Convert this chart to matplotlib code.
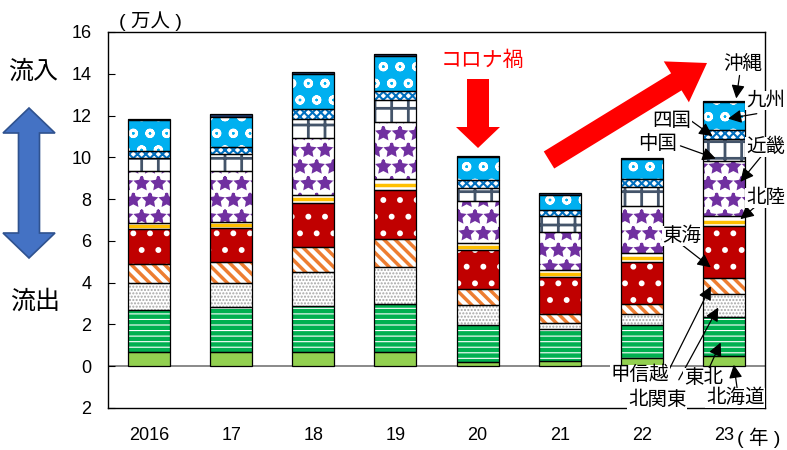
import numpy as np
import matplotlib
matplotlib.use('Agg')
import matplotlib.pyplot as plt
from matplotlib.patches import Polygon

plt.rcParams['font.family'] = ['Liberation Sans', 'Noto Sans CJK JP']

years = ['2016', '17', '18', '19', '20', '21', '22', '23']
regions = ['北海道', '東北', '北関東', '甲信越', '東海', '北陸',
           '近畿', '中国', '四国', '九州', '沖縄']

# 地域別の値（万人）
hokkaido   = [0.68, 0.68, 0.68, 0.68, 0.22, 0.26, 0.39, 0.47]
tohoku     = [1.99, 2.17, 2.20, 2.31, 1.74, 1.54, 1.57, 1.90]
kitakanto  = [1.30, 1.15, 1.65, 1.78, 0.98, 0.28, 0.55, 1.07]
koshinetsu = [0.94, 1.01, 1.20, 1.30, 0.77, 0.44, 0.46, 0.77]
tokai      = [1.65, 1.62, 2.08, 2.37, 1.84, 1.75, 2.04, 2.48]
hokuriku   = [0.29, 0.29, 0.39, 0.53, 0.34, 0.32, 0.40, 0.48]
kinki      = [2.49, 2.42, 2.72, 2.72, 2.00, 1.84, 2.27, 2.67]
chugoku    = [0.62, 0.80, 0.93, 1.07, 0.66, 0.74, 0.89, 1.05]
shikoku    = [0.34, 0.35, 0.45, 0.40, 0.35, 0.32, 0.40, 0.42]
kyushu     = [1.47, 1.44, 1.67, 1.67, 1.10, 0.72, 0.96, 1.36]
okinawa    = [0.05, 0.13, 0.13, 0.10, 0.05, 0.07, 0.06, 0.05]

series = [hokkaido, tohoku, kitakanto, koshinetsu, tokai, hokuriku,
          kinki, chugoku, shikoku, kyushu, okinawa]

# (塗り, ハッチ, ハッチ色, ハッチ線幅)
styles = [
    ('#92D050', None, None, 0),
    ('#00B050', '---', 'white', 0.8),
    ('white', '.....', '#A6A6A6', 1.0),
    ('white', '\\\\\\', '#ED7D31', 2.5),
    ('#C00000', '.', 'white', 1.8),
    ('white', None, None, 0),
    ('white', '*', '#7030A0', 2.0),
    ('white', '+', '#44546A', 2.0),
    ('white', 'xxxx', '#0070C0', 1.5),
    ('#00B0F0', 'o', 'white', 2.0),
    ('#1F3864', None, None, 0),
]

fig = plt.figure(figsize=(7.87, 4.5), dpi=100)
ax = fig.add_axes([108/787, 1-408/450, (765-108)/787, (408-32)/450])

x = np.arange(len(years))
w = 0.51
bottom = np.zeros(len(years))
tops = []
for vals, (fc, hatch, hc, hlw) in zip(series, styles):
    vals = np.array(vals)
    ax.bar(x, vals, bottom=bottom, width=w, color=fc, linewidth=0, zorder=2)
    if hatch:
        with plt.rc_context({'hatch.linewidth': hlw}):
            bars = ax.bar(x, vals, bottom=bottom, width=w, color='none',
                          edgecolor=hc, hatch=hatch, linewidth=0, zorder=3)
        for p in bars:
            if hasattr(p, 'set_hatch_linewidth'):
                p.set_hatch_linewidth(hlw)
    ax.bar(x, vals, bottom=bottom, width=w, color='none',
           edgecolor='black', linewidth=0.9, zorder=4)
    tops.append((bottom.copy(), vals))
    bottom = bottom + vals

# 北陸の黄色い線
hb, hv = tops[5]
ax.hlines(hb + hv * 0.45, x - w/2, x + w/2, color='#FFC000', lw=2.5, zorder=3)

ax.axhline(0, color='#808080', lw=1.3, zorder=1)

ax.set_xlim(-0.5, 7.5)
ax.set_ylim(-2, 16)
yt = np.arange(-2, 17, 2)
ax.set_yticks(yt)
ax.set_yticklabels([str(abs(v)) for v in yt])
ax.set_xticks(x)
ax.set_xticklabels(years)
ax.tick_params(axis='y', direction='in', length=5, pad=12, labelsize=13)
ax.tick_params(axis='x', length=0, pad=14, labelsize=13)
for s in ax.spines.values():
    s.set_linewidth(1.0)
    s.set_color('black')

# ラベルと矢印（2023年の棒）
# (地域番号, 文字x, 文字y, 矢印始点x, 矢印始点y, 矢印先x, 段内位置)
labels = [
    (10, 7.225, 14.49, 7.19, 13.92, 7.15, 1.0),
    (9, 7.506, 12.72, 7.40, 12.09, 7.05, 0.4),
    (8, 6.37, 11.71, 6.60, 11.75, 6.86, 0.3),
    (7, 6.19, 10.65, 6.47, 10.55, 6.90, 0.1),
    (6, 7.506, 10.50, 7.48, 10.17, 7.20, 0.62),
    (5, 7.506, 8.05, 7.42, 7.76, 7.20, 0.73),
    (4, 6.49, 6.23, 6.43, 5.99, 6.84, 0.21),
    (3, 5.98, -0.41, 6.32, -0.26, 6.84, 0.5),
    (2, 6.19, -1.61, 6.45, -0.65, 6.93, 0.41),
    (1, 6.75, -0.55, 6.80, -0.26, 6.96, 0.35),
    (0, 7.14, -1.51, 7.16, -1.03, 7.12, 0.15),
]
for ri, tx, ty, sx, sy, ex, frac in labels:
    b, v = tops[ri]
    ey = b[7] + v[7] * frac
    if ri == 10:
        ey = b[7] + v[7] + 0.1
    ax.annotate('', xy=(ex, ey), xytext=(sx, sy),
                arrowprops=dict(arrowstyle='-|>', color='black', lw=0.9,
                                mutation_scale=20, shrinkA=0, shrinkB=0),
                zorder=6, annotation_clip=False)
    ax.text(tx, ty, regions[ri], fontsize=14, ha='center', va='center',
            zorder=7, clip_on=False,
            bbox=dict(facecolor='white', edgecolor='none', pad=0.5))


def px(pts):
    return [(a / 787, 1 - b / 450) for a, b in pts]


# 左の青い両矢印
cx, t, bt, hl, hw, sw = 29, 108, 258, 25, 26, 10.5
blue = [(cx, t), (cx + hw, t + hl), (cx + sw, t + hl), (cx + sw, bt - hl),
        (cx + hw, bt - hl), (cx, bt), (cx - hw, bt - hl), (cx - sw, bt - hl),
        (cx - sw, t + hl), (cx - hw, t + hl)]
fig.patches.append(Polygon(px(blue), closed=True, facecolor='#4472C4',
                           edgecolor='#2F528F', lw=1.2, transform=fig.transFigure))
fig.text(33/787, 1 - 72/450, '流入', fontsize=18, ha='center', va='center')
fig.text(35/787, 1 - 302/450, '流出', fontsize=18, ha='center', va='center')

# コロナ禍の赤い矢印
cx, t, hb_, tip, sw, hw = 478, 79, 127, 148, 11, 22
down = [(cx - sw, t), (cx + sw, t), (cx + sw, hb_), (cx + hw, hb_), (cx, tip),
        (cx - hw, hb_), (cx - sw, hb_)]
fig.patches.append(Polygon(px(down), closed=True, facecolor='red',
                           edgecolor='none', transform=fig.transFigure))
fig.text(482/787, 1 - 60/450, 'コロナ禍', fontsize=15, color='red',
         ha='center', va='center')

# 回復の斜め矢印
tail = np.array([549.0, 160.0])
tipp = np.array([707.0, 63.0])
d = tipp - tail
L = np.hypot(*d)
u = d / L
n = np.array([u[1], -u[0]])
sw, hw, hl = 10, 24, 36
base = tipp - u * hl
diag = [tail + n * sw, base + n * sw, base + n * hw, tipp,
        base - n * hw, base - n * sw, tail - n * sw]
fig.patches.append(Polygon(px([tuple(p) for p in diag]), closed=True,
                           facecolor='red', edgecolor='none',
                           transform=fig.transFigure))

fig.text(150/787, 1 - 21/450, '( 万人 )', fontsize=14, ha='center', va='center')
fig.text(759/787, 1 - 438/450, '( 年 )', fontsize=14, ha='center', va='center')

fig.savefig('out.png', dpi=100)
